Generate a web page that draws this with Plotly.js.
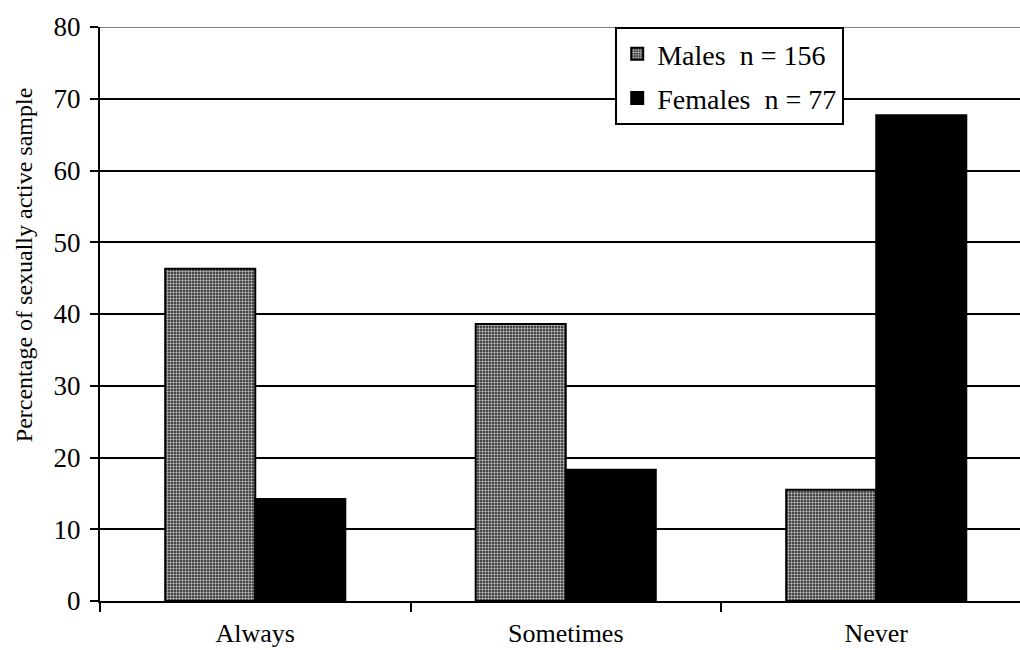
<!DOCTYPE html>
<html>
<head>
<meta charset="utf-8">
<script src="https://cdn.plot.ly/plotly-3.0.1.min.js"></script>
<style>html,body{margin:0;padding:0;background:#fff;overflow:hidden}</style>
</head>
<body>
<div id="chart" style="width:1020px;height:650px"></div>
<script>
const categories = ["Always", "Sometimes", "Never"];
const malesValues = [46.3, 38.6, 15.5];
const femalesValues = [14.2, 18.3, 67.7];
const seriesNames = ["Males\u00a0\u00a0n = 156", "Females\u00a0\u00a0n = 77"];
const yTicks = [0, 10, 20, 30, 40, 50, 60, 70, 80];
const yTitle = "Percentage of sexually active sample";

const FAMILY = "'Liberation Serif', 'Times New Roman', Times, serif";
function mkFont(size) { return {family: FAMILY, size: size, color: "#000"}; }

const traces = [
  {
    type: "bar", x: categories, y: malesValues, name: seriesNames[0], legendgroup: "m",
    marker: {color: "#5a5a5a", line: {color: "#000", width: 2},
      pattern: {shape: "+", fgcolor: "#c8c8c8", bgcolor: "#444444", size: 3, solidity: 0.35}}
  },
  {
    type: "bar", x: categories, y: femalesValues, name: seriesNames[1], legendgroup: "f",
    marker: {color: "#000", line: {color: "#000", width: 2}}
  }
];

const layout = {
  width: 1020, height: 650,
  margin: {l: 100, r: 0, t: 27, b: 49},
  paper_bgcolor: "#fff", plot_bgcolor: "#fff",
  font: mkFont(26),
  barmode: "group", bargap: 0.42, bargroupgap: 0,
  showlegend: true,
  legend: {
    x: 0.56, y: 1, xanchor: "left", yanchor: "top",
    bgcolor: "#fff", bordercolor: "#000", borderwidth: 2,
    font: mkFont(28), traceorder: "grouped", tracegroupgap: 5, itemwidth: 30
  },
  xaxis: {
    type: "category", range: [-0.5, 2.463],
    showline: true, linecolor: "#000", linewidth: 2,
    ticks: "outside", tickson: "boundaries", ticklen: 9, tickwidth: 2, tickcolor: "#000",
    ticklabelstandoff: 8,
    showgrid: false, zeroline: false, tickfont: mkFont(26), fixedrange: true
  },
  yaxis: {
    range: [0, 80], tickvals: yTicks, ticktext: yTicks.map(String),
    showline: true, linecolor: "#000", linewidth: 2,
    ticks: "outside", ticklen: 8, tickwidth: 2, tickcolor: "#000",
    ticklabelstandoff: 4,
    showgrid: true, gridcolor: "#000", gridwidth: 2, zeroline: false,
    tickfont: mkFont(27)
  },
  annotations: [
    {text: yTitle, xref: "paper", yref: "paper", x: -76 / 920, y: 0.585,
     xanchor: "center", yanchor: "middle", textangle: -90, showarrow: false,
     font: mkFont(24)}
  ],
  shapes: [
    {type: "line", xref: "paper", yref: "y", x0: 0, x1: 1, y0: 80, y1: 80,
     line: {color: "#808080", width: 2}, layer: "above"}
  ]
};

Plotly.newPlot("chart", traces, layout, {displayModeBar: false, staticPlot: true});
</script>
</body>
</html>
